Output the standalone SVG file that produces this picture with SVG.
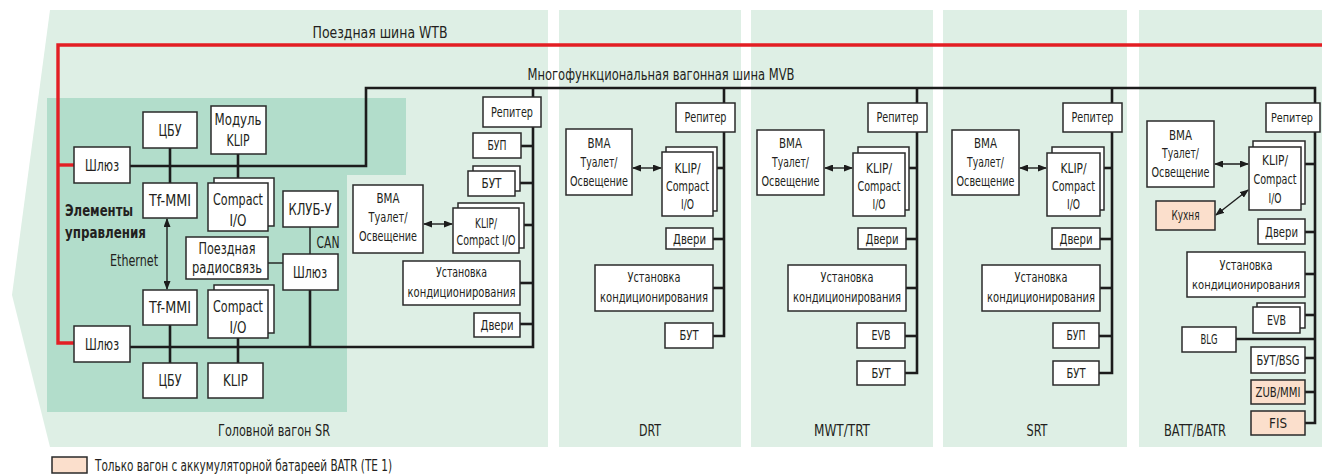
<svg xmlns="http://www.w3.org/2000/svg" width="1322" height="474" viewBox="0 0 1322 474">
<style>
.pan{fill:#deefe5}
.dark{fill:#b2ddcb}
.box{fill:#fff;stroke:#2a2a2a;stroke-width:1.5}
.pe{fill:#fbdfcc}
.bus{stroke:#1c1c1c;stroke-width:2.6;fill:none}
.ln{stroke:#1c1c1c;stroke-width:2.6;fill:none}
.thin{stroke:#1c1c1c;stroke-width:1.4;fill:none}
.wtb{stroke:#e31e24;stroke-width:3.4;fill:none}
text{font-family:'DejaVu Sans Condensed','DejaVu Sans',sans-serif;font-stretch:condensed;font-size:14px;fill:#231f20;text-anchor:middle}
.lbl{font-size:16px}
.big{font-size:15px}
.sm{font-size:12.5px}
.bold{font-weight:bold;text-anchor:start;font-size:16px}
</style>
<defs>
<marker id="ah" markerUnits="userSpaceOnUse" markerWidth="9" markerHeight="7" refX="8" refY="3.5" orient="auto-start-reverse" viewBox="0 0 9 7"><path d="M0,0 L9,3.5 L0,7 z" fill="#1c1c1c"/></marker>
</defs>
<g id="panels">
<polygon class="pan" points="50,10 548,10 548,447 50,447 12,295"/>
<rect class="pan" x="559" y="10" width="182" height="437"/>
<rect class="pan" x="751" y="10" width="182" height="437"/>
<rect class="pan" x="943" y="10" width="184" height="437"/>
<rect class="pan" x="1139" y="10" width="183" height="437"/>
<polygon class="dark" points="47,98 406,98 406,175 347,175 347,412 47,412"/>
</g>
<g id="connectors">
<polyline class="wtb" points="1322,45 58,45 58,343 75,343"/>
<line class="wtb" x1="58" y1="165" x2="75" y2="165"/>
<polyline class="bus" points="130,166 366,166 366,88 1315,88 1315,423 1305,423"/>
<polyline class="bus" points="130,347 533,347 533,88"/>
<line class="ln" x1="170" y1="148" x2="170" y2="183"/>
<line class="ln" x1="238" y1="154" x2="238" y2="178"/>
<line class="ln" x1="170" y1="325" x2="170" y2="363"/>
<line class="ln" x1="238" y1="338" x2="238" y2="363"/>
<line class="ln" x1="310" y1="290" x2="310" y2="347"/>
<line class="thin" x1="310" y1="227" x2="310" y2="254"/>
<line class="thin" x1="268" y1="263" x2="283" y2="263"/>
<line class="thin" x1="167" y1="219" x2="167" y2="289" marker-start="url(#ah)" marker-end="url(#ah)"/>
<line class="ln" x1="521" y1="146" x2="533" y2="146"/>
<line class="ln" x1="520" y1="183" x2="533" y2="183"/>
<line class="ln" x1="524" y1="225" x2="533" y2="225"/>
<line class="ln" x1="520" y1="283" x2="533" y2="283"/>
<line class="ln" x1="520" y1="324" x2="533" y2="324"/>
<line class="thin" x1="424" y1="224" x2="452" y2="224" marker-start="url(#ah)" marker-end="url(#ah)"/>
<polyline class="bus" points="724,88 724,336 713,336"/>
<line class="ln" x1="717" y1="168" x2="724" y2="168"/>
<line class="ln" x1="713" y1="239" x2="724" y2="239"/>
<line class="ln" x1="713" y1="288" x2="724" y2="288"/>
<line class="thin" x1="633" y1="168" x2="661" y2="168" marker-start="url(#ah)" marker-end="url(#ah)"/>
<polyline class="bus" points="917,88 917,373 905,373"/>
<line class="ln" x1="909" y1="168" x2="917" y2="168"/>
<line class="ln" x1="906" y1="239" x2="917" y2="239"/>
<line class="ln" x1="906" y1="288" x2="917" y2="288"/>
<line class="ln" x1="905" y1="336" x2="917" y2="336"/>
<line class="thin" x1="825" y1="168" x2="852" y2="168" marker-start="url(#ah)" marker-end="url(#ah)"/>
<polyline class="bus" points="1112,88 1112,373 1099,373"/>
<line class="ln" x1="1104" y1="168" x2="1112" y2="168"/>
<line class="ln" x1="1100" y1="239" x2="1112" y2="239"/>
<line class="ln" x1="1100" y1="288" x2="1112" y2="288"/>
<line class="ln" x1="1099" y1="336" x2="1112" y2="336"/>
<line class="thin" x1="1020" y1="168" x2="1046" y2="168" marker-start="url(#ah)" marker-end="url(#ah)"/>
<line class="ln" x1="1305" y1="164" x2="1315" y2="164"/>
<line class="ln" x1="1305" y1="232" x2="1315" y2="232"/>
<line class="ln" x1="1305" y1="274" x2="1315" y2="274"/>
<line class="ln" x1="1305" y1="315" x2="1315" y2="315"/>
<line class="ln" x1="1236" y1="339" x2="1315" y2="339"/>
<line class="ln" x1="1305" y1="358" x2="1315" y2="358"/>
<line class="ln" x1="1305" y1="392" x2="1315" y2="392"/>
<line class="thin" x1="1215" y1="164" x2="1248" y2="164" marker-start="url(#ah)" marker-end="url(#ah)"/>
<line class="thin" x1="1216" y1="215" x2="1248" y2="190" marker-start="url(#ah)" marker-end="url(#ah)"/>
</g>
<g id="labels">
<text class="lbl" x="380" y="38" textLength="135" lengthAdjust="spacingAndGlyphs">Поездная шина WTB</text>
<text class="lbl" x="661" y="80" textLength="267" lengthAdjust="spacingAndGlyphs">Многофункциональная вагонная шина MVB</text>
<text class="bold" x="65" y="216" textLength="68" lengthAdjust="spacingAndGlyphs">Элементы</text>
<text class="bold" x="65" y="238" textLength="81" lengthAdjust="spacingAndGlyphs">управления</text>
<text class="big" x="134" y="266" textLength="48" lengthAdjust="spacingAndGlyphs">Ethernet</text>
<text class="big" x="328" y="248" textLength="23" lengthAdjust="spacingAndGlyphs">CAN</text>
<text class="lbl" x="274" y="436" textLength="112" lengthAdjust="spacingAndGlyphs">Головной вагон SR</text>
<text class="lbl" x="650" y="436" textLength="22" lengthAdjust="spacingAndGlyphs">DRT</text>
<text class="lbl" x="842" y="436" textLength="56" lengthAdjust="spacingAndGlyphs">MWT/TRT</text>
<text class="lbl" x="1037" y="436" textLength="21" lengthAdjust="spacingAndGlyphs">SRT</text>
<text class="lbl" x="1195" y="436" textLength="62" lengthAdjust="spacingAndGlyphs">BATT/BATR</text>
</g>
<g id="sr-gw1"><rect class="box" x="74" y="147" width="56" height="36"/><text class="big" x="102" y="170.5" textLength="34" lengthAdjust="spacingAndGlyphs">Шлюз</text></g>
<g id="sr-cbu1"><rect class="box" x="143" y="112" width="54" height="36"/><text class="big" x="170" y="135.5" textLength="23" lengthAdjust="spacingAndGlyphs">ЦБУ</text></g>
<g id="sr-klipmod"><rect class="box" x="211" y="106" width="55" height="48"/><text class="big" x="238" y="124.5" textLength="47" lengthAdjust="spacingAndGlyphs">Модуль</text><text class="big" x="238" y="145.5" textLength="23" lengthAdjust="spacingAndGlyphs">KLIP</text></g>
<g id="sr-tfmmi1"><rect class="box" x="143" y="183" width="54" height="35"/><text class="big" x="170" y="206" textLength="42" lengthAdjust="spacingAndGlyphs">Tf-MMI</text></g>
<g id="sr-cio1"><rect class="box" x="214" y="178" width="60" height="48"/><rect class="box" x="208" y="183" width="60" height="48"/><text class="big" x="238" y="204.5" textLength="50" lengthAdjust="spacingAndGlyphs">Compact</text><text class="big" x="238" y="225.5" textLength="17" lengthAdjust="spacingAndGlyphs">I/O</text></g>
<g id="sr-klub"><rect class="box" x="283" y="191" width="55" height="36"/><text class="big" x="310" y="214.5" textLength="43" lengthAdjust="spacingAndGlyphs">КЛУБ-У</text></g>
<g id="sr-radio"><rect class="box" x="186" y="237" width="82" height="42"/><text class="big" x="227" y="253.5" textLength="57" lengthAdjust="spacingAndGlyphs">Поездная</text><text class="big" x="227" y="272.5" textLength="70" lengthAdjust="spacingAndGlyphs">радиосвязь</text></g>
<g id="sr-gwcan"><rect class="box" x="283" y="254" width="55" height="36"/><text class="big" x="310" y="277.5" textLength="34" lengthAdjust="spacingAndGlyphs">Шлюз</text></g>
<g id="sr-tfmmi2"><rect class="box" x="143" y="290" width="54" height="35"/><text class="big" x="170" y="313" textLength="42" lengthAdjust="spacingAndGlyphs">Tf-MMI</text></g>
<g id="sr-cio2"><rect class="box" x="214" y="285" width="60" height="48"/><rect class="box" x="208" y="290" width="60" height="48"/><text class="big" x="238" y="311.5" textLength="50" lengthAdjust="spacingAndGlyphs">Compact</text><text class="big" x="238" y="332.5" textLength="17" lengthAdjust="spacingAndGlyphs">I/O</text></g>
<g id="sr-gw2"><rect class="box" x="74" y="326" width="56" height="36"/><text class="big" x="102" y="349.5" textLength="34" lengthAdjust="spacingAndGlyphs">Шлюз</text></g>
<g id="sr-cbu2"><rect class="box" x="143" y="363" width="54" height="35"/><text class="big" x="170" y="386" textLength="23" lengthAdjust="spacingAndGlyphs">ЦБУ</text></g>
<g id="sr-klip"><rect class="box" x="208" y="363" width="55" height="35"/><text class="big" x="235.5" y="386" textLength="25" lengthAdjust="spacingAndGlyphs">KLIP</text></g>
<g id="sr-rep"><rect class="box" x="483" y="97" width="58" height="30"/><text x="512" y="117" textLength="42" lengthAdjust="spacingAndGlyphs">Репитер</text></g>
<g id="sr-bup"><rect class="box" x="473" y="133" width="48" height="25"/><text x="497" y="150" textLength="19" lengthAdjust="spacingAndGlyphs">БУП</text></g>
<g id="sr-but"><rect class="box" x="473" y="166" width="47" height="25"/><rect class="box" x="468" y="171" width="47" height="25"/><text x="491.5" y="188" textLength="20" lengthAdjust="spacingAndGlyphs">БУТ</text></g>
<g id="sr-bma"><rect class="box" x="353" y="185" width="70" height="68"/><text x="388" y="203" textLength="23" lengthAdjust="spacingAndGlyphs">ВМА</text><text x="388" y="222" textLength="39" lengthAdjust="spacingAndGlyphs">Туалет/</text><text x="388" y="241" textLength="58" lengthAdjust="spacingAndGlyphs">Освещение</text></g>
<g id="sr-kc"><rect class="box" x="458" y="203" width="66" height="45"/><rect class="box" x="453" y="208" width="66" height="45"/><text x="486" y="228" textLength="22" lengthAdjust="spacingAndGlyphs">KLIP/</text><text x="486" y="245" textLength="59" lengthAdjust="spacingAndGlyphs">Compact I/O</text></g>
<g id="sr-ac"><rect class="box" x="403" y="261" width="117" height="44"/><text x="461.5" y="277" textLength="51" lengthAdjust="spacingAndGlyphs">Установка</text><text x="461.5" y="297" textLength="108" lengthAdjust="spacingAndGlyphs">кондиционирования</text></g>
<g id="sr-door"><rect class="box" x="474" y="313" width="46" height="24"/><text x="497" y="330" textLength="33" lengthAdjust="spacingAndGlyphs">Двери</text></g>
<g id="drt-rep"><rect class="box" x="676" y="103" width="59" height="29"/><text x="705.5" y="122" textLength="42" lengthAdjust="spacingAndGlyphs">Репитер</text></g>
<g id="drt-bma"><rect class="box" x="566" y="129" width="66" height="66"/><text x="599" y="148" textLength="23" lengthAdjust="spacingAndGlyphs">ВМА</text><text x="599" y="167" textLength="37" lengthAdjust="spacingAndGlyphs">Туалет/</text><text x="599" y="186" textLength="58" lengthAdjust="spacingAndGlyphs">Освещение</text></g>
<g id="drt-kc"><rect class="box" x="666" y="147" width="51" height="64"/><rect class="box" x="662" y="152" width="51" height="64"/><text x="687.5" y="173" textLength="26" lengthAdjust="spacingAndGlyphs">KLIP/</text><text x="687.5" y="191" textLength="43" lengthAdjust="spacingAndGlyphs">Compact</text><text x="687.5" y="209" textLength="13" lengthAdjust="spacingAndGlyphs">I/O</text></g>
<g id="drt-door"><rect class="box" x="666" y="228" width="47" height="21"/><text x="689.5" y="243.5" textLength="33" lengthAdjust="spacingAndGlyphs">Двери</text></g>
<g id="drt-ac"><rect class="box" x="595" y="265" width="118" height="46"/><text x="654" y="282" textLength="53" lengthAdjust="spacingAndGlyphs">Установка</text><text x="654" y="302" textLength="108" lengthAdjust="spacingAndGlyphs">кондиционирования</text></g>
<g id="drt-but"><rect class="box" x="665" y="323" width="48" height="25"/><text x="689" y="340" textLength="19" lengthAdjust="spacingAndGlyphs">БУТ</text></g>
<g id="mwt-rep"><rect class="box" x="868" y="103" width="59" height="29"/><text x="897.5" y="122" textLength="42" lengthAdjust="spacingAndGlyphs">Репитер</text></g>
<g id="mwt-bma"><rect class="box" x="757" y="130" width="67" height="65"/><text x="790.5" y="148" textLength="23" lengthAdjust="spacingAndGlyphs">ВМА</text><text x="790.5" y="167" textLength="37" lengthAdjust="spacingAndGlyphs">Туалет/</text><text x="790.5" y="186" textLength="58" lengthAdjust="spacingAndGlyphs">Освещение</text></g>
<g id="mwt-kc"><rect class="box" x="858" y="147" width="51" height="63"/><rect class="box" x="853" y="153" width="52" height="63"/><text x="879" y="173" textLength="26" lengthAdjust="spacingAndGlyphs">KLIP/</text><text x="879" y="191" textLength="43" lengthAdjust="spacingAndGlyphs">Compact</text><text x="879" y="209" textLength="13" lengthAdjust="spacingAndGlyphs">I/O</text></g>
<g id="mwt-door"><rect class="box" x="858" y="228" width="48" height="21"/><text x="882" y="243.5" textLength="33" lengthAdjust="spacingAndGlyphs">Двери</text></g>
<g id="mwt-ac"><rect class="box" x="788" y="265" width="118" height="46"/><text x="847" y="282" textLength="53" lengthAdjust="spacingAndGlyphs">Установка</text><text x="847" y="302" textLength="108" lengthAdjust="spacingAndGlyphs">кондиционирования</text></g>
<g id="mwt-evb"><rect class="box" x="857" y="323" width="48" height="25"/><text x="881" y="340" textLength="19" lengthAdjust="spacingAndGlyphs">EVB</text></g>
<g id="mwt-but"><rect class="box" x="857" y="361" width="48" height="24"/><text x="881" y="378" textLength="19" lengthAdjust="spacingAndGlyphs">БУТ</text></g>
<g id="srt-rep"><rect class="box" x="1063" y="103" width="59" height="29"/><text x="1092.5" y="122" textLength="42" lengthAdjust="spacingAndGlyphs">Репитер</text></g>
<g id="srt-bma"><rect class="box" x="952" y="130" width="67" height="65"/><text x="985.5" y="148" textLength="23" lengthAdjust="spacingAndGlyphs">ВМА</text><text x="985.5" y="167" textLength="37" lengthAdjust="spacingAndGlyphs">Туалет/</text><text x="985.5" y="186" textLength="58" lengthAdjust="spacingAndGlyphs">Освещение</text></g>
<g id="srt-kc"><rect class="box" x="1052" y="147" width="52" height="63"/><rect class="box" x="1047" y="153" width="53" height="63"/><text x="1073.5" y="173" textLength="26" lengthAdjust="spacingAndGlyphs">KLIP/</text><text x="1073.5" y="191" textLength="43" lengthAdjust="spacingAndGlyphs">Compact</text><text x="1073.5" y="209" textLength="13" lengthAdjust="spacingAndGlyphs">I/O</text></g>
<g id="srt-door"><rect class="box" x="1052" y="228" width="48" height="21"/><text x="1076" y="243.5" textLength="33" lengthAdjust="spacingAndGlyphs">Двери</text></g>
<g id="srt-ac"><rect class="box" x="982" y="265" width="118" height="46"/><text x="1041" y="282" textLength="53" lengthAdjust="spacingAndGlyphs">Установка</text><text x="1041" y="302" textLength="108" lengthAdjust="spacingAndGlyphs">кондиционирования</text></g>
<g id="srt-bup"><rect class="box" x="1053" y="323" width="46" height="25"/><text x="1076" y="340" textLength="19" lengthAdjust="spacingAndGlyphs">БУП</text></g>
<g id="srt-but"><rect class="box" x="1053" y="361" width="46" height="24"/><text x="1076" y="378" textLength="19" lengthAdjust="spacingAndGlyphs">БУТ</text></g>
<g id="batt-rep"><rect class="box" x="1266" y="103" width="54" height="29"/><text class="sm" x="1292" y="122" textLength="42" lengthAdjust="spacingAndGlyphs">Репитер</text></g>
<g id="batt-bma"><rect class="box" x="1147" y="121" width="67" height="66"/><text x="1180.5" y="140" textLength="23" lengthAdjust="spacingAndGlyphs">ВМА</text><text x="1180.5" y="158" textLength="37" lengthAdjust="spacingAndGlyphs">Туалет/</text><text x="1180.5" y="177" textLength="58" lengthAdjust="spacingAndGlyphs">Освещение</text></g>
<g id="batt-kc"><rect class="box" x="1253" y="141" width="52" height="63"/><rect class="box" x="1249" y="147" width="52" height="63"/><text x="1275" y="165" textLength="26" lengthAdjust="spacingAndGlyphs">KLIP/</text><text x="1275" y="184" textLength="43" lengthAdjust="spacingAndGlyphs">Compact</text><text x="1275" y="203" textLength="13" lengthAdjust="spacingAndGlyphs">I/O</text></g>
<g id="batt-kitchen"><rect class="box pe" x="1156" y="201" width="59" height="29"/><text x="1185.5" y="220" textLength="28" lengthAdjust="spacingAndGlyphs">Кухня</text></g>
<g id="batt-door"><rect class="box" x="1258" y="219" width="47" height="25"/><text x="1281.5" y="236.5" textLength="33" lengthAdjust="spacingAndGlyphs">Двери</text></g>
<g id="batt-ac"><rect class="box" x="1187" y="252" width="118" height="45"/><text x="1246" y="270" textLength="53" lengthAdjust="spacingAndGlyphs">Установка</text><text class="sm" x="1246" y="289" textLength="108" lengthAdjust="spacingAndGlyphs">кондиционирования</text></g>
<g id="batt-evb"><rect class="box" x="1257" y="303" width="48" height="25"/><rect class="box" x="1253" y="307" width="47" height="26"/><text x="1276.5" y="325" textLength="19" lengthAdjust="spacingAndGlyphs">EVB</text></g>
<g id="batt-blg"><rect class="box" x="1182" y="327" width="54" height="25"/><text x="1209" y="344" textLength="17" lengthAdjust="spacingAndGlyphs">BLG</text></g>
<g id="batt-butbsg"><rect class="box" x="1251" y="347" width="54" height="26"/><text x="1278" y="365" textLength="43" lengthAdjust="spacingAndGlyphs">БУТ/BSG</text></g>
<g id="batt-zub"><rect class="box pe" x="1251" y="380" width="54" height="24"/><text x="1278" y="397" textLength="45" lengthAdjust="spacingAndGlyphs">ZUB/MMI</text></g>
<g id="batt-fis"><rect class="box pe" x="1251" y="411" width="54" height="24"/><text x="1278" y="428" textLength="18" lengthAdjust="spacingAndGlyphs">FIS</text></g>
<g id="legend"><rect class="box pe" x="52" y="457" width="35" height="16"/><text class="lbl" x="95" y="471" style="text-anchor:start" textLength="297" lengthAdjust="spacingAndGlyphs">Только вагон с аккумуляторной батареей BATR (TE 1)</text></g>
</svg>
